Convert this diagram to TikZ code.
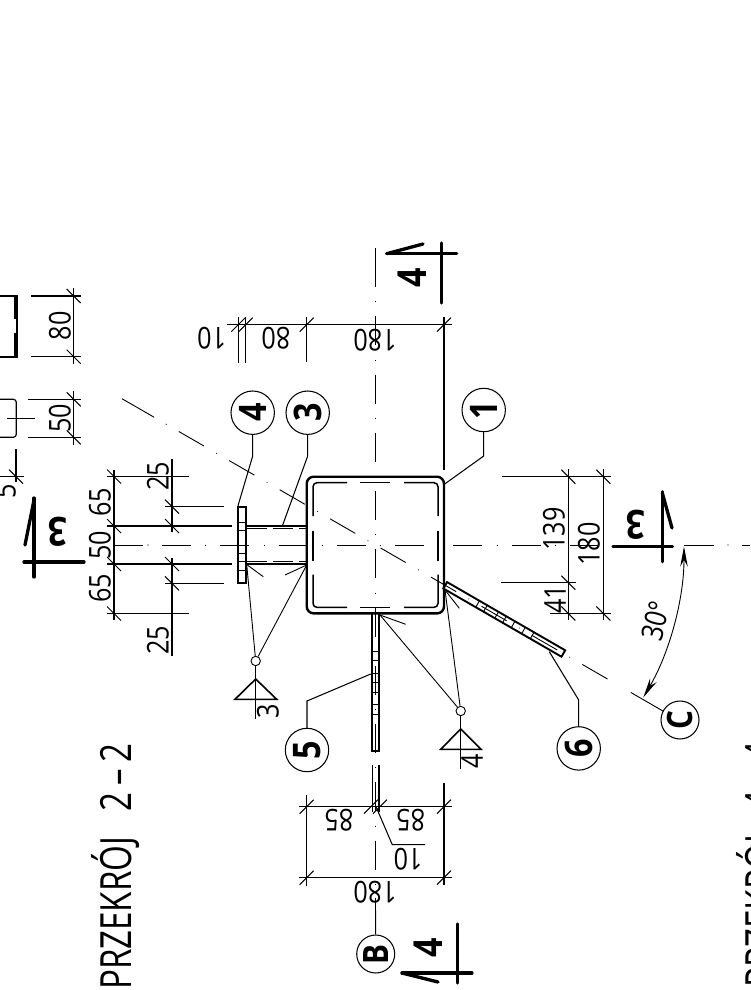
\documentclass[tikz,border=0pt]{standalone}
\usepackage{fontspec}
\setmainfont{Open Sans}
\newfontfamily\dimfam[FakeStretch=0.84]{Open Sans}
\newfontfamily\balfam[FakeStretch=0.85]{Open Sans}
\newfontfamily\titfam[FakeStretch=0.77]{Open Sans}
\usetikzlibrary{arrows.meta}
\tikzset{
 dimline/.style={line width=1.05pt,black},
 thinline/.style={line width=0.9pt,black},
 thickline/.style={line width=2.1pt,black},
 secline/.style={line width=3.3pt,line cap=round,black},
 cdash/.style={line width=0.9pt,black,dash pattern=on 29pt off 14.3pt on 0.7pt off 14.25pt},
 dimtext/.style={font=\dimfam\fontsize{30}{30}\selectfont,inner sep=0pt},
 balloon/.style={circle,draw,line width=1.05pt,minimum size=43.4pt,inner sep=0pt,rotate=90,font=\balfam\bfseries\fontsize{38}{38}\selectfont},
 smallballoon/.style={balloon,minimum size=38pt,font=\balfam\bfseries\fontsize{35}{35}\selectfont},
 seclabel/.style={inner sep=0pt,font=\balfam\bfseries\fontsize{40}{40}\selectfont},
 weldring/.style={circle,draw,line width=0.9pt,minimum size=9.4pt,inner sep=0pt},
 titletext/.style={inner sep=0pt,rotate=90,anchor=east,font=\titfam\fontsize{43}{43}\selectfont},
}
\newcommand{\tickdown}[2]{\draw[dimline] (#1-7,#2-7) -- (#1+7,#2+7);}
\newcommand{\tickup}[2]{\draw[dimline] (#1-7,#2+7) -- (#1+7,#2-7);}
\begin{document}
\begin{tikzpicture}[x=1pt,y=-1pt]
\useasboundingbox (0,0) rectangle (750,990);
\clip (0,0) rectangle (750,990);

% --- balloons
\node[balloon] (n1) at (483.7,410) {1};
\node[balloon] (n4) at (252.7,412.7) {4};
\node[balloon] (n3) at (307.7,412.7) {3};
\node[balloon] (n5) at (307,750) {5};
\node[balloon] (n6) at (578.7,748.4) {6};
\node[smallballoon] (nB) at (375.7,954) {B};
\node[smallballoon] (nC) at (680,720) {C};

% --- centre lines
\coordinate (vA) at (375.5,248); \coordinate (vB) at (375.5,258);
\coordinate (vC) at (375.5,898);
\draw[thinline] (vA) -- (vB);
\draw[cdash] (vB) -- (375.5,897);
\draw[thinline] (vC) -- (nB);
\coordinate (hA) at (115,545);
\draw[thinline] (hA) -- (143,545);
\fill (148,545) circle (0.6);
\draw[cdash] (162,545) -- (598,545);
\draw[thinline] (684,545) -- (714,545);
\fill (728,545) circle (0.6);
\draw[thinline] (742,545) -- (750,545);
\begin{scope}[shift={(375.4,545)},rotate=-30]
 \draw[thinline] (-292.6,0) -- (-255.6,0);
 \fill (-241.5,0) circle (0.6);
 \draw[cdash] (-227,0) -- (281.5,0);
 \draw[thinline] (295,0) -- (332.5,0);
\end{scope}

% --- hollow section (1)
\draw[line width=2.4pt,rounded corners=7pt] (306.7,476.7) rectangle (444,613.4);
\begin{scope}[line width=1.5pt]
 \draw[rounded corners=4pt] (347,482.7) -- (313,482.7) -- (313,516);
 \draw[rounded corners=4pt] (404,482.7) -- (438,482.7) -- (438,516);
 \draw[rounded corners=4pt] (347,607.4) -- (313,607.4) -- (313,574.7);
 \draw[rounded corners=4pt] (404,607.4) -- (438,607.4) -- (438,574.7);
 \draw (360,482.7) -- (390,482.7);
 \draw (360,607.4) -- (390,607.4);
 \draw (313,530.7) -- (313,560.7);
 \draw (438,530.7) -- (438,560.7);
\end{scope}

% --- flange plate (4) and web (3)
\draw[thickline] (238,506.7) rectangle (246,583.3);
\foreach \yy in {522,530,553,561,570} \draw[thinline] (238,\yy) -- (246,\yy);
\draw[thickline] (246.7,526) -- (306.7,526);
\draw[thickline] (246.7,564) -- (306.7,564);
\draw[line width=1pt,dash pattern=on 20pt off 6pt] (247,528.5) -- (306,528.5);
\draw[line width=1pt,dash pattern=on 20pt off 6pt] (247,561.5) -- (306,561.5);

% --- plate (5)
\draw[thickline] (372,613.4) -- (372,750.7) -- (379,750.7) -- (379,613.4);
\foreach \yy in {651,660,673,682,692,704,714} \draw[thinline] (372,\yy) -- (379,\yy);

% --- plate (6)
\begin{scope}[shift={(375.4,545)},rotate=-30]
 \draw[line width=1.9pt] (80.6,-3.7) rectangle (217,3.7);
 \foreach \tt in {118,127,140,149,159,171,181} \draw[thinline] (\tt,-3.7) -- (\tt,3.7);
\end{scope}

% --- partial details at the left edge
\draw[line width=1.6pt] (-2,296) -- (16.7,296) -- (16.7,356.7) -- (-2,356.7);
\draw[line width=1.4pt] (15,296) -- (15,319);
\draw[line width=1.4pt] (15,333) -- (15,356.7);
\draw[line width=1.2pt,rounded corners=3pt] (-5,399.3) -- (16.3,399.3) -- (16.3,437.3) -- (-5,437.3);
\draw[thinline] (7,418.3) -- (35,418.3);
\draw[dimline] (31,296) -- (81,296); \draw[dimline] (31,356.7) -- (81,356.7);
\draw[dimline] (73.7,288) -- (73.7,364);
\tickdown{73.7}{296} \tickdown{73.7}{356.7}
\draw[dimline] (27.7,399.3) -- (81,399.3); \draw[dimline] (27.7,437.3) -- (81,437.3);
\draw[dimline] (73.7,391) -- (73.7,445);
\tickdown{73.7}{399.3} \tickdown{73.7}{437.3}
\node[dimtext,rotate=90] (t80a) at (60,326) {80};
\node[dimtext,rotate=90] (t50a) at (60,418.5) {50};
\draw[dimline] (16,449) -- (16,482);
\draw[dimline] (-2,476.7) -- (24,476.7);
\tickdown{16}{476.7}
\node[dimtext,rotate=90] (t5) at (5,491) {5};

% --- section marks
\draw[secline] (34,498) -- (34,577);
\draw[secline] (24,562) -- (84,562);
\draw[secline] (34,500) -- (25,545);
\node[seclabel,rotate=180] (s3a) at (58,532) {3};
\draw[secline] (662.3,491.7) -- (662.3,561.7);
\draw[secline] (613,546.7) -- (672.5,546.7);
\draw[secline] (662.3,493) -- (672,528);
\node[seclabel,rotate=180] (s3b) at (636,525) {3};
\draw[secline] (441.7,243) -- (441.7,303);
\draw[secline] (386.7,253.7) -- (456.7,253.7);
\draw[secline] (386.7,253.7) -- (423,244);
\node[seclabel,rotate=90] (s4a) at (412,278) {4};
\draw[secline] (457.7,924) -- (457.7,983);
\draw[secline] (402,973) -- (472,973);
\draw[secline] (402,973) -- (438,982);
\node[seclabel,rotate=90] (s4b) at (428,948) {4};

% --- top dimension chain
\draw[dimline] (226.7,324.7) -- (451.7,324.7);
\draw[dimline] (238.3,317) -- (238.3,362.7);
\draw[dimline] (245.7,317) -- (245.7,363);
\draw[dimline] (306.7,317) -- (306.7,362);
\draw[dimline] (444,317) -- (444,470);
\tickup{238.3}{324.7} \tickup{245.7}{324.7} \tickup{306.7}{324.7} \tickup{444}{324.7}
\node[dimtext,rotate=180] (t10a) at (211.7,338) {10};
\node[dimtext,rotate=180] (t80b) at (276,338) {80};
\node[dimtext,rotate=180] (t180a) at (375,340) {180};

% --- left dimension stacks
\draw[dimline] (114,470) -- (114,620);
\tickdown{114}{476.5} \tickdown{114}{526} \tickdown{114}{564} \tickdown{114}{613.5}
\draw[dimline] (107,476.5) -- (189,476.5);
\draw[dimline] (107,613.5) -- (189,613.5);
\draw[thickline,line width=1.3pt] (107,526) -- (231.7,526);
\draw[thickline,line width=1.3pt] (107,564) -- (231.7,564);
\draw[dimline] (165,506.7) -- (223.5,506.7);
\draw[dimline] (165,583.3) -- (223.5,583.3);
\draw[dimline] (172,459) -- (172,532);
\draw[dimline] (172,558) -- (172,656);
\tickdown{172}{506.7} \tickdown{172}{526} \tickdown{172}{564} \tickdown{172}{583.3}
\node[dimtext,rotate=90] (t65a) at (100,502) {65};
\node[dimtext,rotate=90] (t50b) at (100,545) {50};
\node[dimtext,rotate=90] (t65b) at (100,588) {65};
\node[dimtext,rotate=90] (t25a) at (158,476) {25};
\node[dimtext,rotate=90] (t25b) at (158,640) {25};

% --- right dimensions
\draw[dimline] (568.3,469) -- (568.3,620);
\draw[dimline] (603.3,469) -- (603.3,620);
\draw[dimline] (502,476.7) -- (611,476.7);
\draw[dimline] (501,582.7) -- (576,582.7);
\draw[dimline] (550,613.5) -- (611,613.5);
\tickdown{568.3}{476.7} \tickdown{568.3}{582.7} \tickdown{568.3}{613.5}
\tickdown{603.3}{476.7} \tickdown{603.3}{613.5}
\node[dimtext,rotate=90] (t139) at (554,529) {139};
\node[dimtext,rotate=90] (t180b) at (589,544) {180};
\node[dimtext,rotate=90] (t41) at (555,599) {41};

% --- bottom dimensions
\draw[dimline] (299,806.7) -- (451.7,806.7);
\draw[dimline] (299,877.7) -- (451.7,877.7);
\draw[dimline] (306.7,795) -- (306.7,886);
\draw[dimline] (444,783.3) -- (444,885);
\draw[dimline] (372.2,765) -- (372.2,812);
\draw[dimline] (379,765) -- (379,812);
\tickup{306.7}{806.7} \tickup{371}{806.7} \tickup{380}{806.7} \tickup{444}{806.7}
\tickup{306.7}{877.7} \tickup{444}{877.7}
\coordinate (k10) at (376,806.7);
\draw[dimline] (k10) -- (392.3,844.7) -- (425,844.7);
\node[dimtext,rotate=180] (t85a) at (339,820.7) {85};
\node[dimtext,rotate=180] (t85b) at (410.7,820.7) {85};
\node[dimtext,rotate=180] (t10b) at (408,859) {10};
\node[dimtext,rotate=180] (t180c) at (375,892) {180};

% --- balloon leaders
\draw[dimline] (n1) -- (483.7,456) -- (443.3,485);
\draw[dimline] (n4) -- (252.7,456) -- (238,505.7);
\draw[dimline] (n3) -- (307.7,456) -- (282.7,525);
\draw[dimline] (n5) -- (307,701) -- (370.7,674);
\draw[dimline] (n6) -- (578.7,700) -- (549.3,651.7);

% --- weld symbols
\node[weldring] (wa) at (255.7,661) {};
\coordinate (wa1) at (246.7,564.5); \coordinate (wa2) at (306.7,565);
\draw[thinline] (wa1) -- (wa);
\draw[thinline] (wa2) -- (wa);
\draw[thinline] (wa1) -- (263.3,576.7);
\draw[thinline] (wa2) -- (285,575);
\draw[line width=1.6pt,line join=miter] (255.7,679) -- (235,699.3) -- (276.7,699.3) -- cycle;
\draw[dimline] (wa) -- (255.7,719.3);
\node[inner sep=0pt,rotate=90,font=\dimfam\fontsize{30}{30}\selectfont] (wl3) at (268,711.7) {3};

\node[weldring] (wb) at (460.7,711) {};
\coordinate (wb1) at (380,615); \coordinate (wb2) at (445,590);
\draw[thinline] (wb1) -- (wb);
\draw[thinline] (wb2) -- (wb);
\draw[thinline] (wb1) -- (405.7,624.3);
\draw[thinline] (wb2) -- (459.3,608.3);
\draw[line width=1.6pt,line join=miter] (460.7,729) -- (440.7,749.3) -- (481,749.3) -- cycle;
\draw[dimline] (wb) -- (460.7,769.3);
\node[inner sep=0pt,rotate=90,font=\dimfam\fontsize{30}{30}\selectfont] (wl4) at (472,761) {4};

% --- angle
\coordinate (aA) at (684,546.5);
\coordinate (aB) at (643.3,697.5);
\draw[thinline,{Stealth[length=20pt,width=7.5pt]}-{Stealth[length=20pt,width=7.5pt]}] (aA) .. controls (684,599) and (669.6,652.4) .. (aB);
\node[dimtext,rotate=75] (t30) at (656,621) {30°};

% --- titles
\node[titletext] (title2) at (115.5,743) {PRZEKRÓJ\hspace{25pt}2\hspace{7pt}–\hspace{7pt}2};
\node[titletext] (title4) at (760.5,741) {PRZEKRÓJ\hspace{25pt}4\hspace{7pt}–\hspace{7pt}4};
\end{tikzpicture}
\end{document}
